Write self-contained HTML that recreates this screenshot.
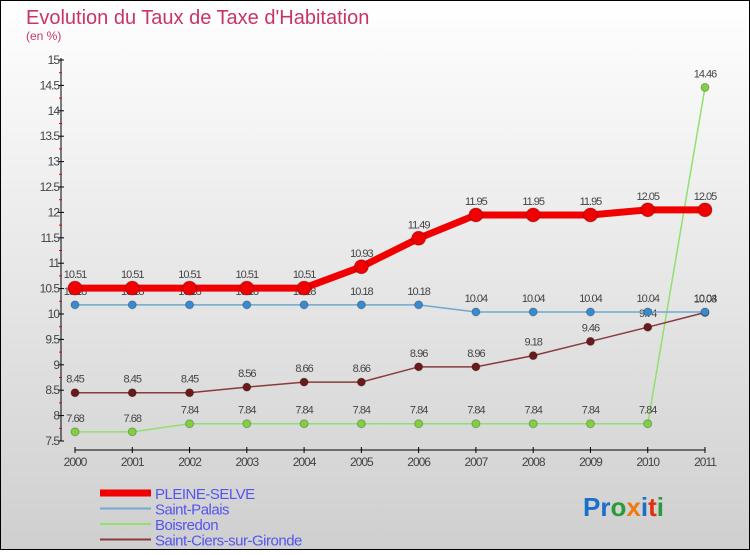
<!DOCTYPE html>
<html><head><meta charset="utf-8"><style>
body{margin:0}
svg text{font-family:"Liberation Sans",sans-serif}
</style></head><body>
<svg width="750" height="550" xmlns="http://www.w3.org/2000/svg">
<defs><linearGradient id="bg" x1="0" y1="0" x2="0" y2="1"><stop offset="0" stop-color="#ffffff"/><stop offset="1" stop-color="#cfcfcf"/></linearGradient></defs>
<rect x="0.5" y="0.5" width="749" height="549" fill="url(#bg)" stroke="#000"/>
<text x="26" y="24" font-size="20" fill="#c8336a">Evolution du Taux de Taxe d'Habitation</text>
<text x="26" y="40" font-size="12" fill="#c8336a">(en %)</text>
<g id="axes"></g>
<g id="series"></g>
<g id="legend"></g>
<text x="583" y="516" font-size="26" font-weight="bold"><tspan fill="#1a6fc9">Pr</tspan><tspan fill="#2a9a3a">o</tspan><tspan fill="#f07a10">x</tspan><tspan fill="#1a6fc9">i</tspan><tspan fill="#e03010">t</tspan><tspan fill="#2a9a3a">i</tspan></text>
</svg>
<script>
const years=["2000","2001","2002","2003","2004","2005","2006","2007","2008","2009","2010","2011"];
const yTicks=[7.5,8,8.5,9,9.5,10,10.5,11,11.5,12,12.5,13,13.5,14,14.5,15];
const pleineSelve=[10.51,10.51,10.51,10.51,10.51,10.93,11.49,11.95,11.95,11.95,12.05,12.05];
const saintPalais=[10.18,10.18,10.18,10.18,10.18,10.18,10.18,10.04,10.04,10.04,10.04,10.04];
const boisredon=[7.68,7.68,7.84,7.84,7.84,7.84,7.84,7.84,7.84,7.84,7.84,14.46];
const saintCiers=[8.45,8.45,8.45,8.56,8.66,8.66,8.96,8.96,9.18,9.46,9.74,10.03];
const NS="http://www.w3.org/2000/svg";
const xs=i=>75+i*(630/11);
const ys=v=>441-(v-7.5)*(381/7.5);
function mk(tag,attrs,parent,text){const e=document.createElementNS(NS,tag);for(const k in attrs)e.setAttribute(k,attrs[k]);if(text!==undefined)e.textContent=text;parent.appendChild(e);return e;}
const ax=document.getElementById('axes');
let e=mk('line',{x1:61,y1:58,x2:61,y2:441,stroke:'#000'},ax);


e=mk('line',{x1:75,y1:450,x2:705,y2:450,stroke:'#000'},ax);


yTicks.forEach((v,i)=>{const y=ys(v);mk('line',{x1:58,y1:y,x2:64,y2:y,stroke:'#000'},ax);
if(i<yTicks.length-1)mk('line',{x1:59,y1:ys(v+0.25),x2:62,y2:ys(v+0.25),stroke:'#e00'},ax);
e=mk('text',{x:59,y:y+4,'font-size':12,'text-anchor':'end',fill:'#444','letter-spacing':'-1'},ax,String(v));

});
years.forEach((yr,i)=>{const x=xs(i);mk('line',{x1:x,y1:447,x2:x,y2:453,stroke:'#000'},ax);
e=mk('text',{x:x,y:466,'font-size':12,'text-anchor':'middle',fill:'#444','letter-spacing':'-1'},ax,yr);

});
const sg=document.getElementById('series');
function draw(vals,color,w,r,fill,name,labels){const g=mk('g',{},sg);


mk('polyline',{points:vals.map((v,i)=>xs(i)+','+ys(v)).join(' '),fill:'none',stroke:color,'stroke-width':w},g);
vals.forEach((v,i)=>{const c=mk('circle',{cx:xs(i),cy:ys(v),r:r,fill:fill,stroke:'rgba(0,0,0,0.25)'},g);


if(labels){const t=mk('text',{x:xs(i),y:ys(v)-10,'font-size':11,'text-anchor':'middle',fill:'#444','letter-spacing':'-1'},g,String(v));

}});}
draw(boisredon,'#90e070',1.5,4,'#80d040','boisredon-series',true);
draw(saintCiers,'#8b3a3a',1.5,4,'#6a1a1a','saint-ciers-series',true);
draw(saintPalais,'#6fa8d0',1.5,4,'#3a8ad0','saint-palais-series',true);
draw(pleineSelve,'#f00000',7,7,'#f00000','pleine-selve-series',true);
const lg=document.getElementById('legend');
const items=[["PLEINE-SELVE","#f00000",7],["Saint-Palais","#6fa8d0",2],["Boisredon","#90e070",2],["Saint-Ciers-sur-Gironde","#8b3a3a",2]];
items.forEach((it,i)=>{const y=493+i*15.5;const g=mk('g',{},lg);


mk('line',{x1:100,y1:y,x2:151,y2:y,stroke:it[1],'stroke-width':it[2]},g);
mk('text',{x:155,y:y+6,'font-size':15,fill:'#5555ee','letter-spacing':'-0.5'},g,it[0]);});
</script>
</body></html>
